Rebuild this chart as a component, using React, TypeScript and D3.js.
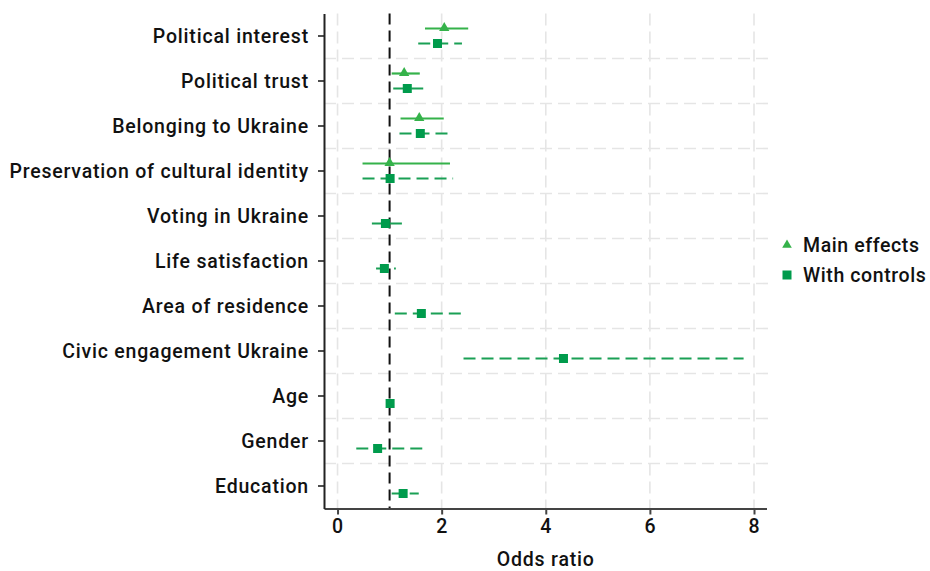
import React, { useEffect, useRef } from 'react';
import * as d3 from 'd3';

const categories = [
  'Political interest',
  'Political trust',
  'Belonging to Ukraine',
  'Preservation of cultural identity',
  'Voting in Ukraine',
  'Life satisfaction',
  'Area of residence',
  'Civic engagement Ukraine',
  'Age',
  'Gender',
  'Education',
];

// main effects (only first four predictors)
const mainOR: (number | null)[] = [2.05, 1.28, 1.57, 1.0, null, null, null, null, null, null, null];
const mainLo: (number | null)[] = [1.68, 1.04, 1.21, 0.48, null, null, null, null, null, null, null];
const mainHi: (number | null)[] = [2.51, 1.58, 2.04, 2.16, null, null, null, null, null, null, null];

// with controls
const ctrlOR = [1.92, 1.34, 1.59, 1.01, 0.92, 0.9, 1.61, 4.34, 1.01, 0.77, 1.26];
const ctrlLo = [1.55, 1.07, 1.19, 0.48, 0.66, 0.74, 1.1, 2.42, 0.99, 0.36, 1.04];
const ctrlHi = [2.39, 1.66, 2.12, 2.22, 1.25, 1.12, 2.39, 7.8, 1.03, 1.64, 1.56];

const xTicks = [0, 2, 4, 6, 8];
const legendLabels = ['Main effects', 'With controls'];

const MAIN_COLOR = '#35b24a';
const CTRL_COLOR = '#009b4c';
const CTRL_LINE = '#1aa055';
const FONT = 'Roboto, "DejaVu Sans", sans-serif';

const styleText = (sel: d3.Selection<any, any, any, any>, size: number, spacing = 0.8) =>
  sel.attr('font-family', FONT)
    .attr('font-size', size)
    .attr('font-weight', 500)
    .attr('letter-spacing', spacing)
    .attr('fill', '#111');

export default function App() {
  const svgRef = useRef<SVGSVGElement>(null);

  useEffect(() => {
    if (!svgRef.current) return;
    const svg = d3.select(svgRef.current);
    svg.selectAll('*').remove();

    const x = d3.scaleLinear().domain([-0.26, 8.24]).range([324, 766.5]);
    const y = d3.scaleBand<string>().domain(categories).range([13.5, 508.5]);
    const bw = y.bandwidth();
    const cy = (c: string) => (y(c) ?? 0) + bw / 2;

    // grid
    const grid = svg.append('g')
      .attr('stroke', '#e5e5e5')
      .attr('stroke-width', 1.6)
      .attr('stroke-dasharray', '12,6');
    xTicks.forEach(t => {
      grid.append('line')
        .attr('x1', x(t)).attr('x2', x(t))
        .attr('y1', 13.5).attr('y2', 508.5);
    });
    categories.slice(1).forEach(c => {
      grid.append('line')
        .attr('x1', 324).attr('x2', 768)
        .attr('y1', y(c) ?? 0).attr('y2', y(c) ?? 0);
    });

    // reference line at OR = 1
    svg.append('line')
      .attr('x1', x(1)).attr('x2', x(1))
      .attr('y1', 13.5).attr('y2', 508.5)
      .attr('stroke', '#111')
      .attr('stroke-width', 2)
      .attr('stroke-dasharray', '11,6');

    // with controls (dashed)
    categories.forEach((c, i) => {
      const yy = cy(c) + 7.5;
      svg.append('line')
        .attr('x1', x(ctrlLo[i])).attr('x2', x(ctrlHi[i]))
        .attr('y1', yy).attr('y2', yy)
        .attr('stroke', CTRL_LINE)
        .attr('stroke-width', 2.2)
        .attr('stroke-dasharray', '12,6');
      svg.append('rect')
        .attr('x', x(ctrlOR[i]) - 4.5).attr('y', yy - 4.5)
        .attr('width', 9).attr('height', 9)
        .attr('fill', CTRL_COLOR);
    });

    // main effects (solid)
    const tri = d3.symbol().type(d3.symbolTriangle).size(46);
    categories.forEach((c, i) => {
      const or = mainOR[i], lo = mainLo[i], hi = mainHi[i];
      if (or == null || lo == null || hi == null) return;
      const yy = cy(c) - 7.5;
      svg.append('line')
        .attr('x1', x(lo)).attr('x2', x(hi))
        .attr('y1', yy).attr('y2', yy)
        .attr('stroke', MAIN_COLOR)
        .attr('stroke-width', 2.2);
      svg.append('path')
        .attr('d', tri()!)
        .attr('transform', `translate(${x(or)},${yy - 0.5})`)
        .attr('fill', MAIN_COLOR);
    });

    // axes
    const xAxis = svg.append('g')
      .attr('transform', 'translate(0,508.5)')
      .call(d3.axisBottom(x).tickValues(xTicks).tickSize(6).tickSizeOuter(0).tickPadding(5));
    xAxis.select('.domain').attr('stroke', '#444').attr('stroke-width', 2);
    xAxis.selectAll('.tick line').attr('stroke', '#444').attr('stroke-width', 2);
    styleText(xAxis.selectAll('.tick text'), 19.5);

    const yAxis = svg.append('g')
      .attr('transform', 'translate(324,0)')
      .call(d3.axisLeft(y).tickSize(6).tickSizeOuter(0).tickPadding(9));
    yAxis.select('.domain').attr('stroke', '#222').attr('stroke-width', 2);
    yAxis.selectAll('.tick line').attr('stroke', '#222').attr('stroke-width', 1.6);
    styleText(yAxis.selectAll('.tick text'), 19.5);
    yAxis.selectAll('.tick text').attr('dy', '0.36em');

    styleText(
      svg.append('text')
        .attr('x', x(4)).attr('y', 566)
        .attr('text-anchor', 'middle'),
      19.5
    ).text('Odds ratio');

    // legend
    const lg = svg.append('g').attr('transform', 'translate(787,0)');
    lg.append('path')
      .attr('d', d3.symbol().type(d3.symbolTriangle).size(40)()!)
      .attr('transform', 'translate(0,245)')
      .attr('fill', MAIN_COLOR);
    lg.append('rect')
      .attr('x', -4.5).attr('y', 270.5).attr('width', 9).attr('height', 9)
      .attr('fill', CTRL_COLOR);
    legendLabels.forEach((l, i) => {
      styleText(
        lg.append('text').attr('x', 16).attr('y', 252 + i * 30),
        19.5,
        0.6
      ).text(l);
    });
  }, []);

  return (
    <svg
      ref={svgRef}
      width={930}
      height={571}
      style={{ position: 'absolute', left: 0, top: 0, background: '#fff' }}
    />
  );
}
